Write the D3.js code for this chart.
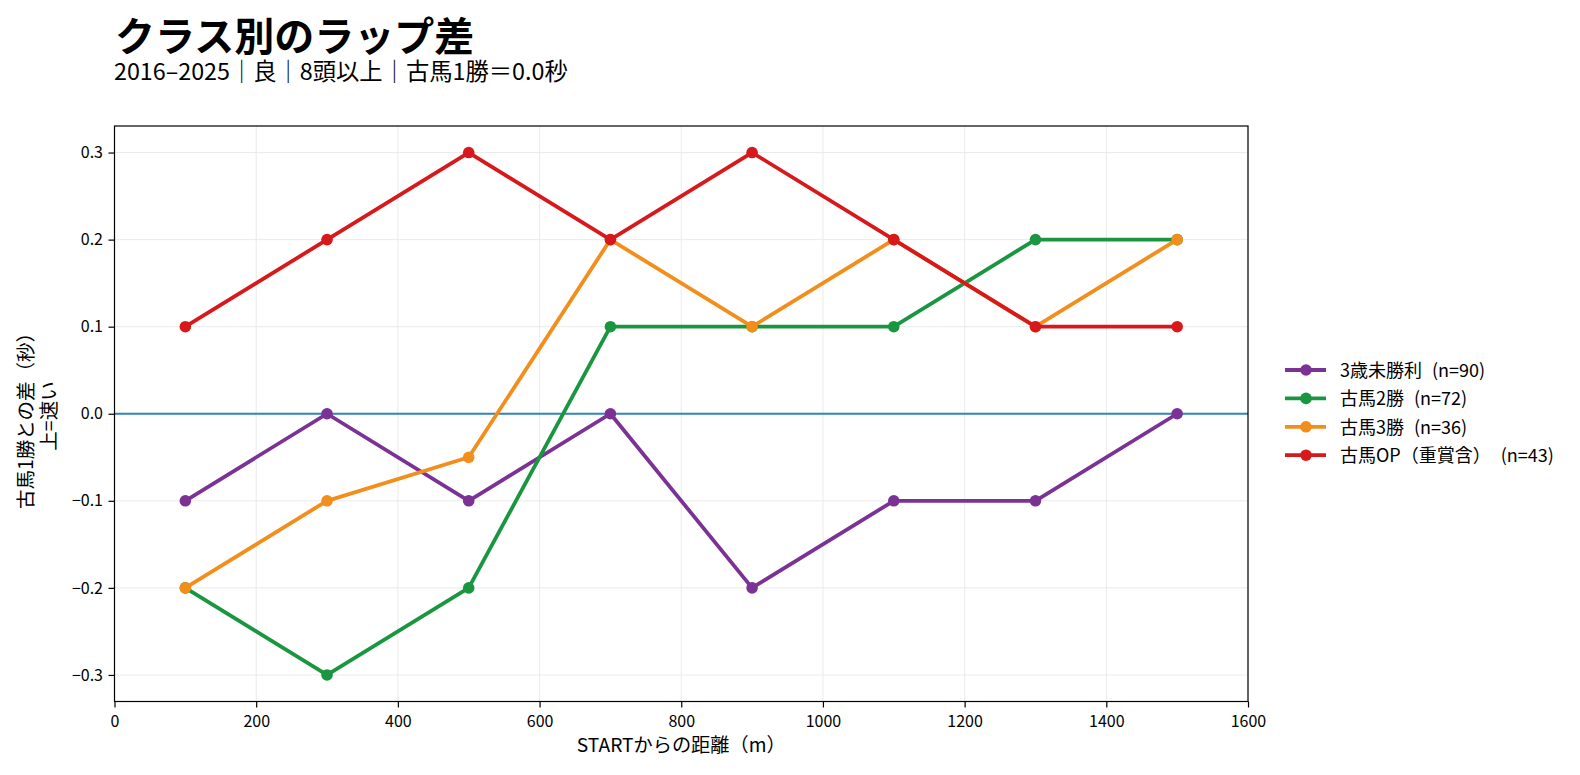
<!DOCTYPE html>
<html><head><meta charset="utf-8">
<script src="https://cdn.jsdelivr.net/npm/d3@7"></script>
<style>
body{margin:0;background:#fff;}
text{font-family:"Noto Sans CJK JP","Noto Sans",sans-serif;}
</style></head>
<body><svg id="c" width="1580" height="775"></svg>
<script>
const distances = [100,300,500,700,900,1100,1300,1500];
const seriesLabels = ["3歳未勝利","古馬2勝","古馬3勝","古馬OP（重賞含）"];
const seriesCounts = [90,72,36,43];
const seriesColors = ["#7b3294","#1a9641","#f28e1c","#d7191c"];
const s3yoMaiden = [-0.1,0,-0.1,0,-0.2,-0.1,-0.1,0];
const sOld2win = [-0.2,-0.3,-0.2,0.1,0.1,0.1,0.2,0.2];
const sOld3win = [-0.2,-0.1,-0.05,0.2,0.1,0.2,0.1,0.2];
const sOldOP = [0.1,0.2,0.3,0.2,0.3,0.2,0.1,0.1];
const xTicks = [0,200,400,600,800,1000,1200,1400,1600];
const yTicks = [-0.3,-0.2,-0.1,0,0.1,0.2,0.3];
const titleText = "クラス別のラップ差";
const subtitleText = "2016–2025｜良｜8頭以上｜古馬1勝＝0.0秒";
const xLabel = "STARTからの距離（m）";
const yLabel1 = "古馬1勝との差（秒）";
const yLabel2 = "上=速い";

const allSeries = [s3yoMaiden,sOld2win,sOld3win,sOldOP];
const svg = d3.select("#c");
const L=114.5,R=1248,T=126,B=701.5;
const x = d3.scaleLinear().domain([0,1600]).range([L,R]);
const y = d3.scaleLinear().domain([-0.3305,0.3305]).range([B,T]);

svg.append("text").attr("x",115).attr("y",51).attr("font-size",40).attr("font-weight","bold").text(titleText);
svg.append("text").attr("x",114).attr("y",80).attr("font-size",23.3).text(subtitleText);

const g = svg.append("g");
g.selectAll(".gx").data(xTicks).enter().append("line")
 .attr("x1",d=>x(d)).attr("x2",d=>x(d)).attr("y1",T).attr("y2",B)
 .attr("stroke","#e8e8e8").attr("stroke-width",0.9);
g.selectAll(".gy").data(yTicks).enter().append("line")
 .attr("x1",L).attr("x2",R).attr("y1",d=>y(d)).attr("y2",d=>y(d))
 .attr("stroke","#e8e8e8").attr("stroke-width",0.9);

g.append("line").attr("x1",L).attr("x2",R).attr("y1",y(0)).attr("y2",y(0))
 .attr("stroke","#3283be").attr("stroke-width",2.2);

const line = d3.line().x((d,i)=>x(distances[i])).y(d=>y(d));
allSeries.forEach((s,k)=>{
  g.append("path").datum(s).attr("d",line).attr("fill","none")
   .attr("stroke",seriesColors[k]).attr("stroke-width",3.8).attr("stroke-linejoin","round");
  g.selectAll(".p"+k).data(s).enter().append("circle")
   .attr("cx",(d,i)=>x(distances[i])).attr("cy",d=>y(d)).attr("r",5.8)
   .attr("fill",seriesColors[k]);
});

svg.append("rect").attr("x",L).attr("y",T).attr("width",R-L).attr("height",B-T)
 .attr("fill","none").attr("stroke","#000").attr("stroke-width",1.2);

const xa = svg.append("g").attr("transform",`translate(0,${B})`)
 .call(d3.axisBottom(x).tickValues(xTicks).tickSize(6).tickPadding(8).tickFormat(d3.format("d")));
const ya = svg.append("g").attr("transform",`translate(${L},0)`)
 .call(d3.axisLeft(y).tickValues(yTicks).tickSize(6).tickPadding(5.5).tickFormat(d=>d3.format(".1f")(d).replace("-","−")));
[xa,ya].forEach(a=>{a.select(".domain").remove();
 a.selectAll("text").attr("font-size",16).attr("fill","#000").style("font-family","'Noto Sans CJK JP',sans-serif");
 a.selectAll("line").attr("stroke","#000").attr("stroke-width",1.2);});

svg.append("text").attr("x",(L+R)/2).attr("y",752).attr("text-anchor","middle").attr("font-size",19.2).text(xLabel);
svg.append("text").attr("transform",`translate(33,416) rotate(-90)`).attr("text-anchor","middle").attr("font-size",19.5).text(yLabel1);
svg.append("text").attr("transform",`translate(56,416) rotate(-90)`).attr("text-anchor","middle").attr("font-size",19.5).text(yLabel2);

const lg = svg.append("g");
seriesLabels.forEach((n,k)=>{
  const yy = 370 + k*28.4;
  lg.append("line").attr("x1",1285).attr("x2",1326).attr("y1",yy).attr("y2",yy)
   .attr("stroke",seriesColors[k]).attr("stroke-width",3.8);
  lg.append("circle").attr("cx",1306).attr("cy",yy).attr("r",5.8).attr("fill",seriesColors[k]);
  const t = lg.append("text").attr("x",1340).attr("y",yy+7).attr("font-size",18);
  t.append("tspan").text(n);
  t.append("tspan").attr("dx",10).text(`(n=${seriesCounts[k]})`);
});
</script></body></html>
